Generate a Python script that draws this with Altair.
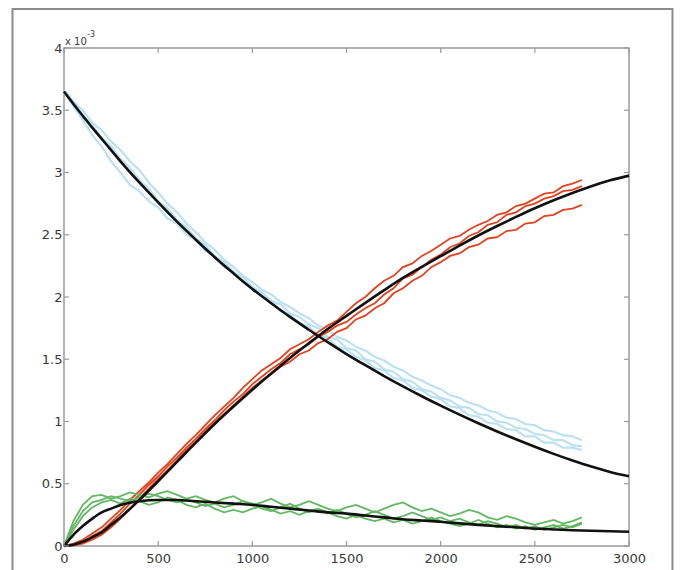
import altair as alt
import pandas as pd

# ---------------- data (y values in units of 1e-3) ----------------
T_RUN = list(range(0, 2751, 50))

BLUE_RUNS = [
    [3.66, 3.57, 3.50, 3.40, 3.34, 3.25, 3.18, 3.09, 3.02, 2.92,
     2.84, 2.75, 2.68, 2.59, 2.52, 2.44, 2.38, 2.30, 2.24, 2.17,
     2.12, 2.06, 2.02, 1.96, 1.92, 1.87, 1.83, 1.77, 1.74, 1.68,
     1.65, 1.60, 1.57, 1.52, 1.49, 1.44, 1.41, 1.36, 1.33, 1.29,
     1.26, 1.21, 1.19, 1.15, 1.13, 1.09, 1.07, 1.03, 1.02, 0.98,
     0.97, 0.93, 0.92, 0.89, 0.88, 0.85],
    [3.64, 3.56, 3.46, 3.38, 3.28, 3.21, 3.11, 3.04, 2.94, 2.87,
     2.77, 2.71, 2.62, 2.56, 2.47, 2.42, 2.33, 2.28, 2.20, 2.16,
     2.08, 2.04, 1.97, 1.94, 1.87, 1.84, 1.78, 1.75, 1.68, 1.66,
     1.59, 1.57, 1.50, 1.48, 1.42, 1.40, 1.34, 1.32, 1.26, 1.24,
     1.19, 1.17, 1.12, 1.11, 1.06, 1.05, 1.00, 0.99, 0.95, 0.94,
     0.90, 0.89, 0.85, 0.85, 0.81, 0.80],
    [3.65, 3.53, 3.42, 3.30, 3.21, 3.09, 3.00, 2.90, 2.85, 2.77,
     2.72, 2.63, 2.59, 2.50, 2.46, 2.37, 2.33, 2.24, 2.20, 2.12,
     2.08, 2.00, 1.97, 1.89, 1.86, 1.79, 1.76, 1.69, 1.67, 1.60,
     1.58, 1.52, 1.49, 1.43, 1.41, 1.35, 1.33, 1.27, 1.25, 1.20,
     1.18, 1.12, 1.11, 1.05, 1.04, 0.99, 0.98, 0.94, 0.93, 0.88,
     0.88, 0.83, 0.83, 0.79, 0.79, 0.77],
]

RED_RUNS = [
    [0.0, 0.02, 0.05, 0.10, 0.15, 0.22, 0.29, 0.37, 0.44, 0.51,
     0.59, 0.66, 0.74, 0.82, 0.89, 0.97, 1.05, 1.12, 1.19, 1.27,
     1.34, 1.41, 1.46, 1.51, 1.58, 1.62, 1.66, 1.72, 1.77, 1.81,
     1.88, 1.95, 2.00, 2.07, 2.13, 2.17, 2.24, 2.27, 2.33, 2.37,
     2.42, 2.47, 2.49, 2.54, 2.58, 2.61, 2.66, 2.68, 2.73, 2.75,
     2.79, 2.83, 2.84, 2.89, 2.91, 2.94],
    [0.0, 0.01, 0.03, 0.08, 0.12, 0.19, 0.26, 0.34, 0.41, 0.49,
     0.56, 0.64, 0.71, 0.79, 0.86, 0.94, 1.01, 1.09, 1.16, 1.22,
     1.30, 1.36, 1.42, 1.47, 1.54, 1.58, 1.62, 1.68, 1.72, 1.77,
     1.80, 1.86, 1.91, 1.95, 2.02, 2.07, 2.15, 2.18, 2.24, 2.30,
     2.34, 2.40, 2.43, 2.49, 2.52, 2.58, 2.60, 2.66, 2.68, 2.73,
     2.75, 2.79, 2.81, 2.85, 2.86, 2.89],
    [0.0, 0.005, 0.02, 0.05, 0.09, 0.15, 0.22, 0.30, 0.38, 0.46,
     0.54, 0.61, 0.69, 0.77, 0.84, 0.92, 0.99, 1.06, 1.13, 1.20,
     1.27, 1.33, 1.38, 1.44, 1.48, 1.54, 1.57, 1.63, 1.66, 1.72,
     1.75, 1.82, 1.85, 1.91, 1.95, 2.03, 2.07, 2.13, 2.17, 2.24,
     2.28, 2.33, 2.35, 2.40, 2.42, 2.47, 2.48, 2.53, 2.54, 2.59,
     2.60, 2.65, 2.66, 2.70, 2.71, 2.74],
]

GREEN_RUNS = [
    [0.0, 0.20, 0.33, 0.40, 0.41, 0.38, 0.40, 0.43, 0.41, 0.39,
     0.42, 0.44, 0.41, 0.38, 0.40, 0.37, 0.35, 0.38, 0.40, 0.36,
     0.33, 0.35, 0.38, 0.34, 0.31, 0.33, 0.36, 0.33, 0.30, 0.28,
     0.31, 0.33, 0.30, 0.27, 0.30, 0.33, 0.35, 0.31, 0.28, 0.30,
     0.27, 0.24, 0.26, 0.29, 0.27, 0.23, 0.21, 0.24, 0.22, 0.19,
     0.17, 0.19, 0.21, 0.18, 0.20, 0.23],
    [0.0, 0.16, 0.28, 0.35, 0.37, 0.40, 0.38, 0.36, 0.39, 0.42,
     0.40, 0.37, 0.35, 0.37, 0.35, 0.32, 0.34, 0.31, 0.33, 0.36,
     0.34, 0.30, 0.28, 0.31, 0.34, 0.30, 0.27, 0.29, 0.26, 0.29,
     0.26, 0.23, 0.25, 0.28, 0.25, 0.22, 0.24, 0.27, 0.24, 0.21,
     0.23, 0.20, 0.22, 0.19, 0.17, 0.20, 0.18, 0.15, 0.17, 0.14,
     0.16, 0.13, 0.15, 0.17, 0.15, 0.18],
    [0.0, 0.13, 0.24, 0.31, 0.35, 0.37, 0.34, 0.38, 0.36, 0.33,
     0.35, 0.39, 0.37, 0.33, 0.31, 0.34, 0.30, 0.27, 0.29, 0.27,
     0.30, 0.32, 0.29, 0.26, 0.28, 0.25, 0.28, 0.30, 0.27, 0.24,
     0.22, 0.25, 0.22, 0.20, 0.22, 0.19, 0.21, 0.18, 0.20, 0.23,
     0.20, 0.18, 0.16, 0.18, 0.21, 0.18, 0.15, 0.17, 0.14, 0.16,
     0.13, 0.15, 0.17, 0.14, 0.16, 0.19],
]

T_FIT = [0, 50, 100, 150, 200, 250, 300, 400, 500, 600, 700, 800, 900,
         1000, 1100, 1200, 1300, 1400, 1500, 1600, 1700, 1800, 1900, 2000,
         2100, 2200, 2300, 2400, 2500, 2600, 2700, 2800, 2900, 3000]
A_FIT = [3.65, 3.55, 3.455, 3.36, 3.27, 3.18, 3.09, 2.92, 2.76, 2.605, 2.46,
         2.32, 2.19, 2.065, 1.95, 1.84, 1.737, 1.637, 1.542, 1.452, 1.365,
         1.282, 1.203, 1.127, 1.055, 0.986, 0.92, 0.857, 0.797, 0.74, 0.687,
         0.638, 0.595, 0.56]
B_FIT = [0.0, 0.09, 0.16, 0.22, 0.27, 0.30, 0.33, 0.36, 0.37, 0.37, 0.36,
         0.35, 0.34, 0.33, 0.315, 0.30, 0.285, 0.27, 0.26, 0.245, 0.23,
         0.215, 0.205, 0.195, 0.182, 0.17, 0.16, 0.15, 0.14, 0.133, 0.127,
         0.122, 0.118, 0.115]
C_FIT = [0.0, 0.01, 0.035, 0.07, 0.11, 0.17, 0.23, 0.37, 0.52, 0.675, 0.83,
         0.98, 1.12, 1.255, 1.385, 1.51, 1.628, 1.743, 1.848, 1.953, 2.055,
         2.153, 2.242, 2.328, 2.413, 2.494, 2.57, 2.643, 2.713, 2.777, 2.836,
         2.89, 2.937, 2.975]

X_TICKS = [0, 500, 1000, 1500, 2000, 2500, 3000]
Y_TICKS = [0, 0.5, 1, 1.5, 2, 2.5, 3, 3.5, 4]

# ---------------- styling ----------------
W, H = 565, 498
FONT = "DejaVu Sans"
LBL = "#3a3a3a"
AX = "#9a9a9a"


def runs_frame(runs):
    rows = []
    for i, vals in enumerate(runs):
        for t, v in zip(T_RUN, vals):
            rows.append({"t": t, "v": v, "run": i})
    return pd.DataFrame(rows)


def fit_frame():
    rows = []
    for name, vals in (("A", A_FIT), ("B", B_FIT), ("C", C_FIT)):
        for t, v in zip(T_FIT, vals):
            rows.append({"t": t, "v": v, "run": name})
    return pd.DataFrame(rows)


X = alt.X("t:Q", scale=alt.Scale(domain=[0, 3000], nice=False, zero=False),
          axis=alt.Axis(values=X_TICKS, format="d", ticks=False, domain=False,
                        grid=False, labelPadding=6, title=None, labelFont=FONT,
                        labelFontSize=13, labelColor=LBL, labelFlush=False))
Y = alt.Y("v:Q", scale=alt.Scale(domain=[0, 4], nice=False, zero=False),
          axis=alt.Axis(values=Y_TICKS, format="~g", ticks=False, domain=False,
                        grid=False, labelPadding=2, title=None, labelFont=FONT,
                        labelFontSize=13, labelColor=LBL, labelFlush=False))

blue = alt.Chart(runs_frame(BLUE_RUNS)).mark_line(
    color="#b0dcef", strokeWidth=2.2, opacity=0.85).encode(x=X, y=Y, detail="run:N")
red = alt.Chart(runs_frame(RED_RUNS)).mark_line(
    color="#e2431f", strokeWidth=1.8).encode(x=X, y=Y, detail="run:N")
green = alt.Chart(runs_frame(GREEN_RUNS)).mark_line(
    color="#62b863", strokeWidth=1.8).encode(x=X, y=Y, detail="run:N")
fits = alt.Chart(fit_frame()).mark_line(
    color="#111111", strokeWidth=2.6, interpolate="monotone").encode(x=X, y=Y, detail="run:N")

xt = pd.DataFrame({"t": X_TICKS})
yt = pd.DataFrame({"v": Y_TICKS})
tick_b = alt.Chart(xt).mark_rule(color=AX, strokeWidth=1.2).encode(
    x=X, y=alt.value(H), y2=alt.value(H - 5))
tick_t = alt.Chart(xt).mark_rule(color=AX, strokeWidth=1.2).encode(
    x=X, y=alt.value(0), y2=alt.value(5))
tick_l = alt.Chart(yt).mark_rule(color=AX, strokeWidth=1.2).encode(
    y=Y, x=alt.value(0), x2=alt.value(5))
tick_r = alt.Chart(yt).mark_rule(color=AX, strokeWidth=1.2).encode(
    y=Y, x=alt.value(W), x2=alt.value(W - 5))

one = pd.DataFrame({"k": [0]})
mult = alt.Chart(one).mark_text(text="x 10", align="left", baseline="alphabetic",
                                font=FONT, fontSize=10, color=LBL).encode(
    x=alt.value(1), y=alt.value(-3))
expo = alt.Chart(one).mark_text(text="-3", align="left", baseline="alphabetic",
                                font=FONT, fontSize=8, color=LBL).encode(
    x=alt.value(23), y=alt.value(-11))
frame = alt.Chart(one).mark_rect(fill="transparent", stroke="#8c8c8c",
                                 strokeWidth=2).encode(
    x=alt.value(-51.5), x2=alt.value(608.5), y=alt.value(-39), y2=alt.value(560))

chart = alt.layer(
    frame, blue, red, green, fits, tick_b, tick_t, tick_l, tick_r, mult, expo
).properties(
    width=W, height=H,
    autosize=alt.AutoSizeParams(type="none"),
    padding={"left": 56, "top": 40, "right": 45, "bottom": 24},
    background="white",
).configure_view(stroke=AX, strokeWidth=1.5)

chart.save("out.html", embed_options={"renderer": "svg", "actions": False})
